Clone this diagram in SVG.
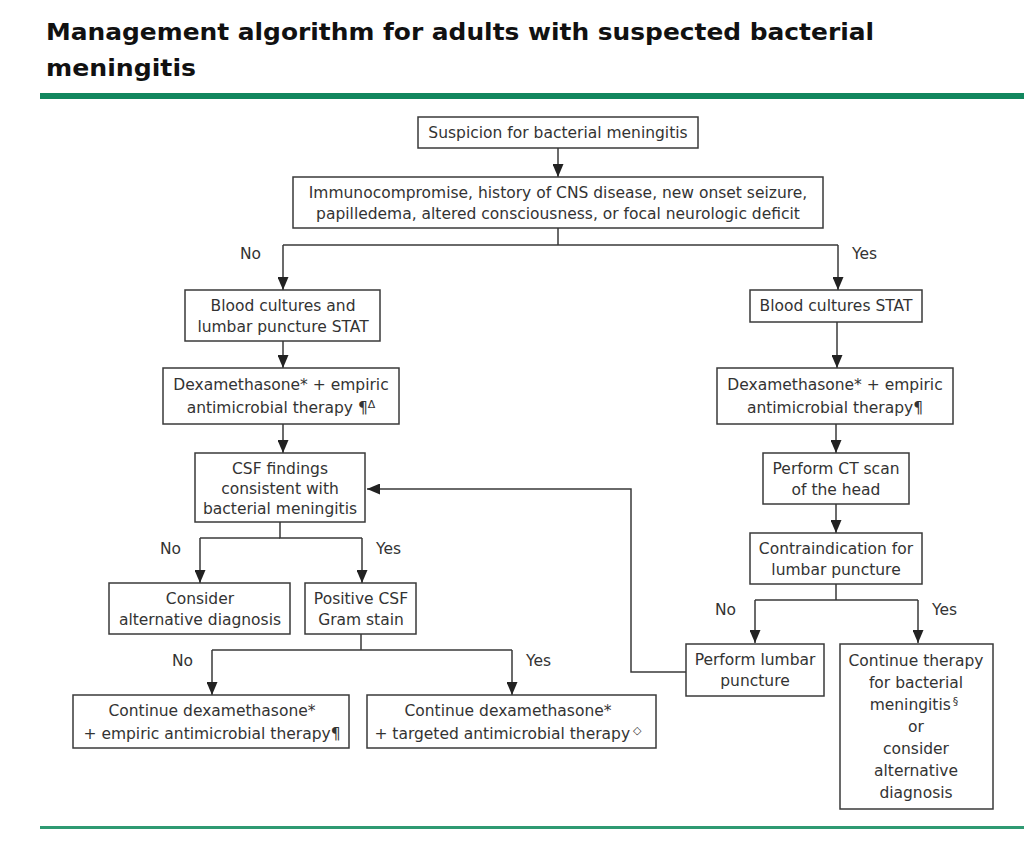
<svg xmlns="http://www.w3.org/2000/svg" width="1024" height="842" viewBox="0 0 1024 842">
<style>
.box{fill:#fff;stroke:#3a3a3a;stroke-width:1.5}
.t{font-family:"DejaVu Sans","Verdana",sans-serif;font-size:15.5px;fill:#333;text-anchor:middle}
.lbl{font-family:"DejaVu Sans","Verdana",sans-serif;font-size:15.5px;fill:#333}
.ttl{font-family:"DejaVu Sans","Verdana",sans-serif;font-size:23px;font-weight:bold;fill:#111}
.c{fill:none;stroke:#3a3a3a;stroke-width:1.5}
.sup{font-size:11px}
</style>
<defs>
<marker id="ah" markerWidth="13" markerHeight="11" refX="13" refY="5.5" orient="auto" markerUnits="userSpaceOnUse" viewBox="0 0 13 11">
<path d="M0,0 L13,5.5 L0,11 Z" fill="#222"/>
</marker>
</defs>
<rect width="1024" height="842" fill="#fff"/>
<g id="title">
<text class="ttl" x="46" y="40" textLength="828" lengthAdjust="spacingAndGlyphs">Management algorithm for adults with suspected bacterial</text>
<text class="ttl" x="46" y="76" textLength="150" lengthAdjust="spacingAndGlyphs">meningitis</text>
<rect x="40" y="93" width="984" height="6" fill="#12875e"/>
<rect x="40" y="826" width="984" height="3" fill="#2f9a72"/>
</g>
<g id="connectors">
<path class="c" d="M558,148 V177" marker-end="url(#ah)"/>
<path class="c" d="M558,228 V245 M283,245 H838"/>
<path class="c" d="M283,245 V290" marker-end="url(#ah)"/>
<path class="c" d="M838,245 V290" marker-end="url(#ah)"/>
<path class="c" d="M283,341 V368" marker-end="url(#ah)"/>
<path class="c" d="M283,424 V453" marker-end="url(#ah)"/>
<path class="c" d="M280,522 V538 H362"/>
<path class="c" d="M200,538 H280"/>
<path class="c" d="M200,538 V583" marker-end="url(#ah)"/>
<path class="c" d="M362,538 V583" marker-end="url(#ah)"/>
<path class="c" d="M361,634 V650 M212,650 H512"/>
<path class="c" d="M212,650 V695" marker-end="url(#ah)"/>
<path class="c" d="M512,650 V695" marker-end="url(#ah)"/>
<path class="c" d="M837,322 V368" marker-end="url(#ah)"/>
<path class="c" d="M836,424 V453" marker-end="url(#ah)"/>
<path class="c" d="M836,504 V533" marker-end="url(#ah)"/>
<path class="c" d="M836,584 V600 M755,600 H918"/>
<path class="c" d="M755,600 V643" marker-end="url(#ah)"/>
<path class="c" d="M918,600 V643" marker-end="url(#ah)"/>
<path class="c" d="M686,672 H631 V489 H367" marker-end="url(#ah)"/>
<text class="lbl" x="240" y="259">No</text>
<text class="lbl" x="852" y="259">Yes</text>
<text class="lbl" x="160" y="554">No</text>
<text class="lbl" x="376" y="554">Yes</text>
<text class="lbl" x="172" y="666">No</text>
<text class="lbl" x="526" y="666">Yes</text>
<text class="lbl" x="715" y="615">No</text>
<text class="lbl" x="932" y="615">Yes</text>
</g>
<g id="n1"><rect class="box" x="418" y="117" width="280" height="31"/>
<text class="t" x="558" y="138">Suspicion for bacterial meningitis</text></g>
<g id="n2"><rect class="box" x="293" y="177" width="530" height="51"/>
<text class="t" x="558" y="198">Immunocompromise, history of CNS disease, new onset seizure,</text>
<text class="t" x="558" y="219">papilledema, altered consciousness, or focal neurologic deficit</text></g>
<g id="n3"><rect class="box" x="185" y="290" width="195" height="51"/>
<text class="t" x="283" y="311">Blood cultures and</text>
<text class="t" x="283" y="332">lumbar puncture STAT</text></g>
<g id="n4"><rect class="box" x="163" y="368" width="236" height="56"/>
<text class="t" x="281" y="390">Dexamethasone* + empiric</text>
<text class="t" x="281" y="413">antimicrobial therapy ¶<tspan class="sup" dy="-5">Δ</tspan></text></g>
<g id="n5"><rect class="box" x="195" y="453" width="170" height="69"/>
<text class="t" x="280" y="474">CSF findings</text>
<text class="t" x="280" y="494">consistent with</text>
<text class="t" x="280" y="514">bacterial meningitis</text></g>
<g id="n6"><rect class="box" x="109" y="583" width="181" height="51"/>
<text class="t" x="200" y="604">Consider</text>
<text class="t" x="200" y="625">alternative diagnosis</text></g>
<g id="n7"><rect class="box" x="305" y="583" width="111" height="51"/>
<text class="t" x="361" y="604">Positive CSF</text>
<text class="t" x="361" y="625">Gram stain</text></g>
<g id="n8"><rect class="box" x="73" y="695" width="276" height="53"/>
<text class="t" x="212" y="716">Continue dexamethasone*</text>
<text class="t" x="212" y="739">+ empiric antimicrobial therapy¶</text></g>
<g id="n9"><rect class="box" x="367" y="695" width="289" height="53"/>
<text class="t" x="508" y="716">Continue dexamethasone*</text>
<text class="t" x="508" y="739">+ targeted antimicrobial therapy<tspan class="sup" dx="3" dy="-5">◇</tspan></text></g>
<g id="n10"><rect class="box" x="750" y="290" width="172" height="32"/>
<text class="t" x="836" y="311">Blood cultures STAT</text></g>
<g id="n11"><rect class="box" x="717" y="368" width="236" height="56"/>
<text class="t" x="835" y="390">Dexamethasone* + empiric</text>
<text class="t" x="835" y="413">antimicrobial therapy¶</text></g>
<g id="n12"><rect class="box" x="763" y="453" width="146" height="51"/>
<text class="t" x="836" y="474">Perform CT scan</text>
<text class="t" x="836" y="495">of the head</text></g>
<g id="n13"><rect class="box" x="750" y="533" width="172" height="51"/>
<text class="t" x="836" y="554">Contraindication for</text>
<text class="t" x="836" y="575">lumbar puncture</text></g>
<g id="n14"><rect class="box" x="686" y="644" width="138" height="52"/>
<text class="t" x="755" y="665">Perform lumbar</text>
<text class="t" x="755" y="686">puncture</text></g>
<g id="n15"><rect class="box" x="840" y="644" width="153" height="165"/>
<text class="t" x="916" y="666">Continue therapy</text>
<text class="t" x="916" y="688">for bacterial</text>
<text class="t" x="914" y="710">meningitis<tspan class="sup" dx="2" dy="-5">§</tspan></text>
<text class="t" x="916" y="732">or</text>
<text class="t" x="916" y="754">consider</text>
<text class="t" x="916" y="776">alternative</text>
<text class="t" x="916" y="798">diagnosis</text></g>
</svg>
